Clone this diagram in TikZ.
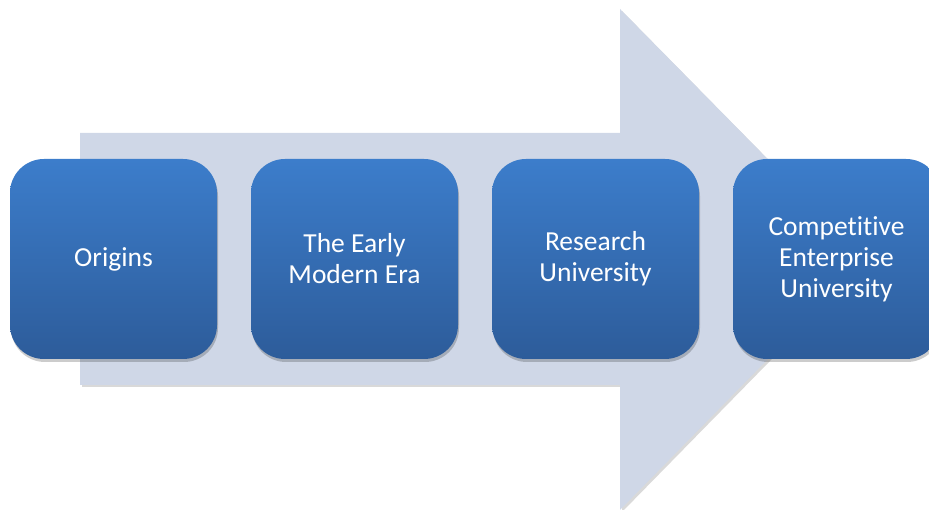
\documentclass[tikz,border=0pt]{standalone}
\usepackage{fontspec}
\setmainfont{Carlito}[Ligatures=NoCommon]
\usetikzlibrary{shadows}
\definecolor{arrowfill}{HTML}{CFD7E7}
\definecolor{boxtop}{HTML}{3C7DCB}
\definecolor{boxbot}{HTML}{2D5C9A}
\tikzset{
  stagebox/.style={rectangle, rounded corners=34pt, minimum width=207pt, minimum height=200pt,
    top color=boxtop, bottom color=boxbot, draw=none, text=white, align=center,
    font=\fontsize{27.5}{31}\selectfont,
    drop shadow={shadow xshift=1pt, shadow yshift=-3pt, opacity=0.2, fill=black}},
  bigarrow/.style={fill=arrowfill, draw=none,
    drop shadow={shadow xshift=2pt, shadow yshift=-2pt, opacity=0.15, fill=black}}
}
\begin{document}
\begin{tikzpicture}[x=1pt,y=1pt]
\useasboundingbox (0,0) rectangle (929,510);
\begin{scope}
\clip (0,0) rectangle (929,510);
\path[bigarrow] (80,377) -- (620,377) -- (620,501) -- (866,251) -- (620,0) -- (620,125) -- (80,125) -- cycle;
\node[stagebox] (b1) at (113.5,251) {Origins};
\node[stagebox] (b2) at (354.5,251) {The Early\\Modern Era};
\node[stagebox] (b3) at (595.5,251) {Research\\University};
\node[stagebox] (b4) at (836.5,251) {Competitive\\Enterprise\\University};
\end{scope}
\end{tikzpicture}
\end{document}
